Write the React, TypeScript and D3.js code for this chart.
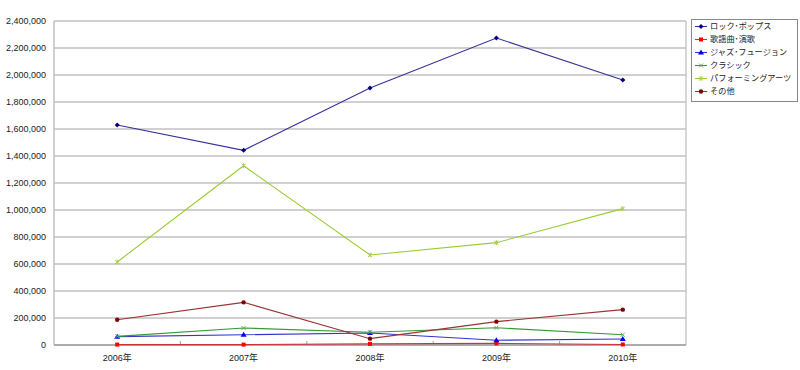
import * as d3 from "d3";

const years = ["2006年", "2007年", "2008年", "2009年", "2010年"];
const seriesNames = ["ロック･ポップス", "歌謡曲･演歌", "ジャズ･フュージョン", "クラシック", "パフォーミングアーツ", "その他"];
const rockPops = [1630000, 1442000, 1904000, 2274000, 1963000];
const kayokyoku = [3000, 3000, 8000, 12000, 4000];
const jazzFusion = [62000, 76000, 89000, 35000, 44000];
const classic = [64000, 126000, 95000, 128000, 76000];
const performingArts = [615000, 1328000, 667000, 758000, 1010000];
const others = [187000, 316000, 47000, 173000, 262000];
const yTicks = [0, 200000, 400000, 600000, 800000, 1000000, 1200000, 1400000, 1600000, 1800000, 2000000, 2200000, 2400000];

const W = 800;
const H = 370;
const PLOT = { left: 54, right: 686, top: 21, bottom: 345 };

type Series = { name: string; values: number[]; line: string; mark: string; shape: string };

const series: Series[] = [
  { name: seriesNames[0], values: rockPops, line: "#333399", mark: "#000080", shape: "diamond" },
  { name: seriesNames[1], values: kayokyoku, line: "#cc3333", mark: "#ff0000", shape: "square" },
  { name: seriesNames[2], values: jazzFusion, line: "#3333cc", mark: "#0000ff", shape: "triangle" },
  { name: seriesNames[3], values: classic, line: "#339933", mark: "#66aa66", shape: "x" },
  { name: seriesNames[4], values: performingArts, line: "#99cc33", mark: "#aacc44", shape: "star" },
  { name: seriesNames[5], values: others, line: "#993333", mark: "#800000", shape: "circle" },
];

const FONT = "'Liberation Sans', 'Noto Sans CJK JP', sans-serif";

// one small marker at (x, y)
const Marker = ({ shape, x, y, color }: { shape: string; x: number; y: number; color: string }) => {
  if (shape === "diamond")
    return <path d={`M${x},${y - 2.5}L${x + 2.5},${y}L${x},${y + 2.5}L${x - 2.5},${y}Z`} fill={color} />;
  if (shape === "square") return <rect x={x - 2} y={y - 2} width={4} height={4} fill={color} />;
  if (shape === "triangle")
    return <path d={`M${x},${y - 3}L${x + 3},${y + 2}L${x - 3},${y + 2}Z`} fill={color} />;
  if (shape === "circle") return <circle cx={x} cy={y} r={2.2} fill={color} />;
  if (shape === "x")
    return (
      <path d={`M${x - 2},${y - 2}L${x + 2},${y + 2}M${x - 2},${y + 2}L${x + 2},${y - 2}`} stroke={color} strokeWidth={1} />
    );
  // star = x with a vertical bar
  return (
    <path
      d={`M${x - 2},${y - 2}L${x + 2},${y + 2}M${x - 2},${y + 2}L${x + 2},${y - 2}M${x},${y - 2.5}L${x},${y + 2.5}`}
      stroke={color}
      strokeWidth={1}
    />
  );
};

export default function App() {
  const xScale = d3.scaleBand().domain(years).range([PLOT.left, PLOT.right]).padding(0);
  const yScale = d3.scaleLinear().domain([0, 2400000]).range([PLOT.bottom, PLOT.top]);
  const fmt = d3.format(",");
  const cx = (yr: string) => (xScale(yr) as number) + xScale.bandwidth() / 2;

  const line = d3
    .line<number>()
    .x((_, i) => cx(years[i]))
    .y((d) => yScale(d));

  return (
    <svg width={W} height={H} style={{ position: "absolute", left: 0, top: 0, background: "#fff" }}>
      {/* grid */}
      {yTicks.map((t) => (
        <g key={t}>
          <line x1={PLOT.left} x2={PLOT.right} y1={yScale(t)} y2={yScale(t)} stroke="#c0c0c0" strokeWidth={1.5} />
          <text x={46} y={yScale(t)} textAnchor="end" dominantBaseline="central" fontSize={9} fontFamily={FONT} fill="#222">
            {fmt(t)}
          </text>
        </g>
      ))}
      <line x1={PLOT.left} x2={PLOT.left} y1={PLOT.top} y2={PLOT.bottom} stroke="#c0c0c0" strokeWidth={1.5} />
      <line x1={PLOT.right} x2={PLOT.right} y1={PLOT.top} y2={PLOT.bottom} stroke="#c8c8c8" strokeWidth={1.5} />
      <line x1={PLOT.left} x2={PLOT.right} y1={PLOT.bottom} y2={PLOT.bottom} stroke="#a0a0a0" strokeWidth={1.5} />
      {years.slice(1).map((yr) => (
        <line key={yr} x1={xScale(yr)} x2={xScale(yr)} y1={PLOT.bottom} y2={PLOT.bottom - 4} stroke="#a0a0a0" strokeWidth={1} />
      ))}
      {years.map((yr) => (
        <text key={yr} x={cx(yr)} y={358} textAnchor="middle" dominantBaseline="central" fontSize={9} fontFamily={FONT} fill="#222">
          {yr}
        </text>
      ))}

      {/* series */}
      {series.map((s) => (
        <g key={s.name}>
          <path d={line(s.values) || ""} fill="none" stroke={s.line} strokeWidth={1.1} />
          {s.values.map((v, i) => (
            <Marker key={i} shape={s.shape} x={cx(years[i])} y={yScale(v)} color={s.mark} />
          ))}
        </g>
      ))}

      {/* legend */}
      <rect x={691.5} y={19.5} width={106} height={82} fill="#fff" stroke="#888" strokeWidth={1} />
      {series.map((s, i) => {
        const y = 26.5 + i * 13;
        return (
          <g key={s.name}>
            <line x1={695} x2={707} y1={y} y2={y} stroke={s.line} strokeWidth={1.1} />
            <Marker shape={s.shape} x={701} y={y} color={s.mark} />
            <text x={710} y={y} dominantBaseline="central" fontSize={8.2} fontFamily={FONT} fill="#222">
              {s.name}
            </text>
          </g>
        );
      })}
    </svg>
  );
}
